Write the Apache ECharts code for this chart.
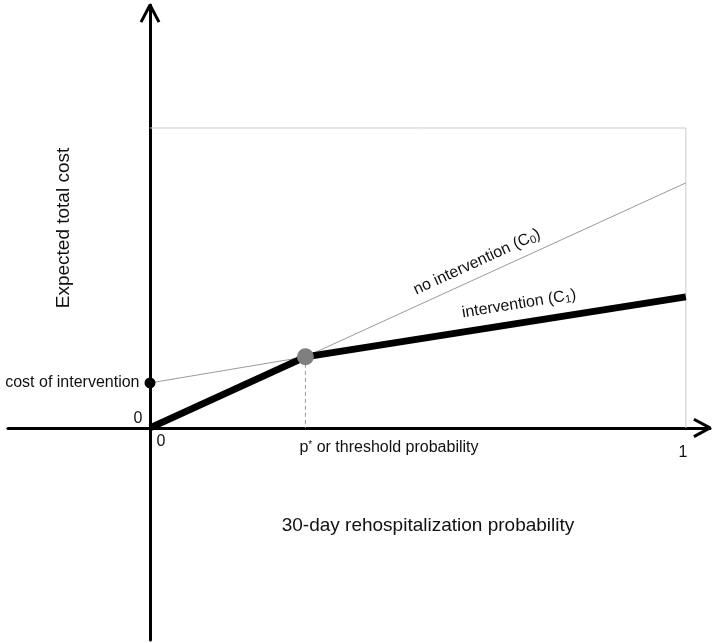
<!DOCTYPE html>
<html>
<head>
<meta charset="utf-8">
<script src="https://cdn.jsdelivr.net/npm/echarts@6/dist/echarts.min.js"></script>
<style>html,body{margin:0;padding:0;background:#fff;}#c{width:717px;height:643px;}</style>
</head>
<body>
<div id="c"></div>
<script>
// ---- data (value space: x = probability, y = relative cost) ----
const costOfIntervention = [0, 0.15];
const thresholdPoint = [0.29, 0.237];
const interventionThick = [[0, 0], [0.29, 0.237], [1, 0.437]];
const interventionBack = [[0, 0.15], [0.29, 0.237]];
const noIntervention = [[0.29, 0.237], [1, 0.817]];
const boxOutline = [[0, 1], [1, 1], [1, 0]];
const thresholdDrop = [[0.29, 0.237], [0.29, 0]];
const xArrow = [[1.015, 0.029], [1.045, 0], [1.015, -0.029]];
const yArrow = [[-0.0168, 1.353], [0, 1.41], [0.0168, 1.353]];
const tickLabels = ['0', '0', '1'];
const xTitle = '30-day rehospitalization probability';
const yTitle = 'Expected total cost';

const FONT = 'Liberation Sans, Arial, sans-serif';
const TXT = '#111';
const chart = echarts.init(document.getElementById('c'), null, {renderer: 'canvas'});

function lineSeries(data, color, width, extra) {
  return Object.assign({
    type: 'line', data: data, symbol: 'none', silent: true, clip: false,
    animation: false, lineStyle: {color: color, width: width}, z: 3
  }, extra || {});
}

const option = {
  animation: false,
  backgroundColor: '#fff',
  grid: {left: 8, right: 7, top: 5, bottom: 3, containLabel: false},
  xAxis: {
    type: 'value', min: -0.265, max: 1.045,
    axisLine: {show: true, onZero: true, lineStyle: {color: '#000', width: 3}},
    axisTick: {show: false}, axisLabel: {show: false}, splitLine: {show: false}
  },
  yAxis: {
    type: 'value', min: -0.707, max: 1.41,
    axisLine: {show: true, onZero: true, lineStyle: {color: '#000', width: 3}},
    axisTick: {show: false}, axisLabel: {show: false}, splitLine: {show: false}
  },
  series: [
    lineSeries(boxOutline, '#cccccc', 1, {z: 1}),
    lineSeries(thresholdDrop, '#999999', 1, {lineStyle: {color: '#999', width: 1, type: [4, 3]}, z: 2}),
    lineSeries(interventionBack, '#9a9a9a', 1, {z: 2}),
    lineSeries(noIntervention, '#9a9a9a', 1, {z: 2}),
    lineSeries(interventionThick, '#000', 7, {z: 4}),
    lineSeries(xArrow, '#000', 3, {z: 5}),
    lineSeries(yArrow, '#000', 3, {z: 5}),
    {
      type: 'scatter', silent: true, animation: false, z: 6,
      data: [thresholdPoint], symbolSize: 17,
      itemStyle: {color: '#7f7f7f', opacity: 1}
    },
    {
      type: 'scatter', silent: true, animation: false, z: 6,
      data: [costOfIntervention], symbolSize: 11,
      itemStyle: {color: '#000', opacity: 1},
      label: {show: true, position: 'left', distance: 5, formatter: 'cost of intervention',
              color: TXT, opacity: 1, fontSize: 16, fontFamily: FONT}
    },
    {
      type: 'scatter', silent: true, animation: false, z: 6, symbolSize: 0,
      itemStyle: {color: '#fff', opacity: 1},
      label: {show: true, position: 'inside', color: TXT, opacity: 1, fontSize: 16, fontFamily: FONT},
      data: [
        {value: [0, 0], label: {formatter: tickLabels[0], offset: [-12, -9]}},
        {value: [0, 0], label: {formatter: tickLabels[1], offset: [11, 14]}},
        {value: [1, 0], label: {formatter: tickLabels[2], offset: [-3, 25]}},
        {value: [thresholdPoint[0], 0], label: {
          formatter: 'p{sup|*} or threshold probability', align: 'left', offset: [-6, 20],
          rich: {sup: {fontSize: 10, verticalAlign: 'top', lineHeight: 8, fontFamily: FONT, color: TXT}}
        }}
      ]
    }
  ],
  graphic: [
    {
      type: 'text', x: 64, y: 228, rotation: Math.PI / 2, silent: true,
      style: {text: yTitle, font: '19px ' + FONT, fill: TXT, align: 'center', verticalAlign: 'middle'}
    },
    {
      type: 'text', x: 428, y: 526, silent: true,
      style: {text: xTitle, font: '19px ' + FONT, fill: TXT, align: 'center', verticalAlign: 'middle'}
    },
    {
      type: 'text', x: 477, y: 262, rotation: 0.43, silent: true,
      style: {
        text: 'no intervention (C{sub|0})', font: '16px ' + FONT, fill: TXT,
        align: 'center', verticalAlign: 'middle',
        rich: {sub: {fontSize: 11, verticalAlign: 'bottom', fontFamily: FONT, fill: TXT, padding: [7, 0, 0, 0]}}
      }
    },
    {
      type: 'text', x: 519, y: 304, rotation: 0.16, silent: true,
      style: {
        text: 'intervention (C{sub|1})', font: '16px ' + FONT, fill: TXT,
        align: 'center', verticalAlign: 'middle',
        rich: {sub: {fontSize: 11, verticalAlign: 'bottom', fontFamily: FONT, fill: TXT, padding: [7, 0, 0, 0]}}
      }
    }
  ]
};
chart.setOption(option);
</script>
</body>
</html>
